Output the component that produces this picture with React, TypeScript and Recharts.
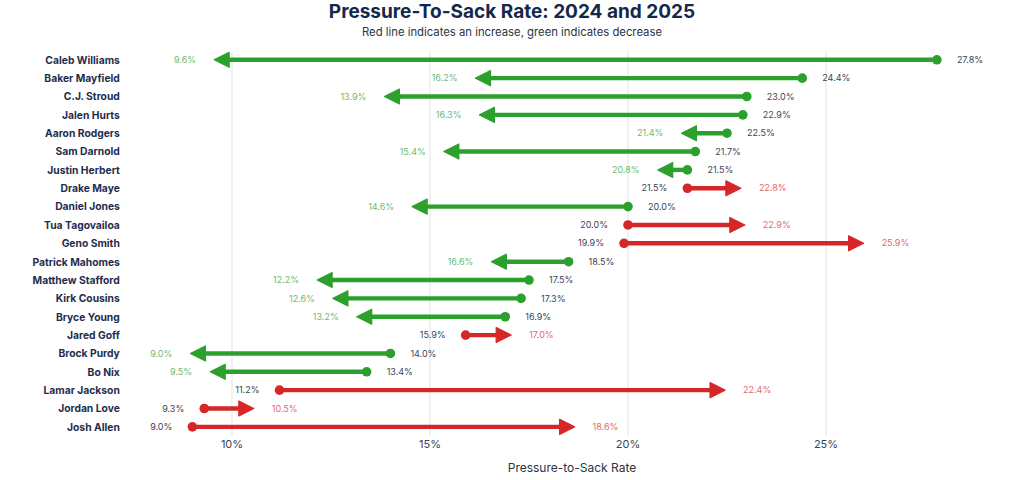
import { BarChart, Bar, XAxis, YAxis, CartesianGrid } from 'recharts';

const players = [
  'Caleb Williams', 'Baker Mayfield', 'C.J. Stroud', 'Jalen Hurts', 'Aaron Rodgers',
  'Sam Darnold', 'Justin Herbert', 'Drake Maye', 'Daniel Jones', 'Tua Tagovailoa',
  'Geno Smith', 'Patrick Mahomes', 'Matthew Stafford', 'Kirk Cousins', 'Bryce Young',
  'Jared Goff', 'Brock Purdy', 'Bo Nix', 'Lamar Jackson', 'Jordan Love', 'Josh Allen',
];
const rate2024 = [
  27.8, 24.4, 23.0, 22.9, 22.5, 21.7, 21.5, 21.5, 20.0, 20.0,
  19.9, 18.5, 17.5, 17.3, 16.9, 15.9, 14.0, 13.4, 11.2, 9.3, 9.0,
];
const rate2025 = [
  9.6, 16.2, 13.9, 16.3, 21.4, 15.4, 20.8, 22.8, 14.6, 22.9,
  25.9, 16.6, 12.2, 12.6, 13.2, 17.0, 9.0, 9.5, 22.4, 10.5, 18.6,
];
const xTicks = [10, 15, 20, 25];

const data = players.map((name, i) => ({
  name,
  y24: rate2024[i],
  y25: rate2025[i],
  range: [Math.min(rate2024[i], rate2025[i]), Math.max(rate2024[i], rate2025[i])],
}));

const GREEN = '#2ca02c';
const RED = '#d62728';
const FONT = 'Inter, "Noto Sans", sans-serif';

// draws one 2024 -> 2025 arrow from the bar's range geometry
const ArrowShape = (props: any) => {
  const { x, y, width, height, payload } = props;
  const cy = y + height / 2;
  const up = payload.y25 > payload.y24;
  const color = up ? RED : GREEN;
  const labelColor = up ? '#df6a6b' : '#6dbb6d';
  const start = up ? x : x + width;
  const end = up ? x + width : x;
  const dir = up ? 1 : -1;
  const tip = end + dir * 2;
  const head = 15;
  const base = tip - dir * head;
  return (
    <g>
      <line x1={start} y1={cy} x2={base + dir * 2} y2={cy} stroke={color} strokeWidth={4.4} />
      <polygon
        points={`${tip},${cy} ${base},${cy - 7.5} ${base},${cy + 7.5}`}
        fill={color}
        stroke={color}
        strokeWidth={1.2}
        strokeLinejoin="round"
      />
      <circle cx={start} cy={cy} r={4.8} fill={color} />
      <text
        x={start - dir * 20}
        y={cy}
        dy="0.35em"
        textAnchor={up ? 'end' : 'start'}
        fontSize={9}
        fill="#3d4556"
        fontFamily={FONT}
      >
        {payload.y24.toFixed(1)}%
      </text>
      <text
        x={end + dir * 20}
        y={cy}
        dy="0.35em"
        textAnchor={up ? 'start' : 'end'}
        fontSize={9}
        fill={labelColor}
        fontFamily={FONT}
      >
        {payload.y25.toFixed(1)}%
      </text>
    </g>
  );
};

export default function App() {
  return (
    <div style={{ position: 'absolute', left: 0, top: 0, width: 1024, height: 480, background: '#fff', fontFamily: FONT }}>
      <div style={{ position: 'absolute', top: 0, left: 0, width: 1024, textAlign: 'center', fontSize: 19, fontWeight: 700, color: '#14284b', lineHeight: '24px' }}>
        Pressure-To-Sack Rate: 2024 and 2025
      </div>
      <div style={{ position: 'absolute', top: 23.5, left: 0, width: 1024, textAlign: 'center', fontSize: 11.3, color: '#2b3445', lineHeight: '16px' }}>
        Red line indicates an increase, green indicates decrease
      </div>
      <BarChart
        layout="vertical"
        width={1024}
        height={480}
        data={data}
        margin={{ top: 50.8, right: 39.6, bottom: 13.8, left: 12.8 }}
        barCategoryGap={0}
      >
        <CartesianGrid horizontal={false} verticalValues={xTicks} stroke="#e3e3e3" />
        <XAxis
          type="number"
          domain={[8, 29]}
          ticks={xTicks}
          tickFormatter={(v) => `${v}%`}
          axisLine={false}
          tickLine={false}
          tickSize={0}
          tickMargin={4}
          height={30}
          tick={{ fontSize: 11, fill: '#3d4556', fontFamily: FONT }}
        />
        <YAxis
          type="category"
          dataKey="name"
          width={140}
          axisLine={false}
          tickLine={false}
          tickSize={0}
          tickMargin={33}
          interval={0}
          tick={{ fontSize: 10.3, fill: '#1f2d4d', fontWeight: 700, fontFamily: FONT }}
        />
        <Bar dataKey="range" shape={<ArrowShape />} isAnimationActive={false} />
      </BarChart>
      <div style={{ position: 'absolute', top: 460, left: 472, width: 200, textAlign: 'center', fontSize: 12, color: '#2b3445', lineHeight: '16px' }}>
        Pressure-to-Sack Rate
      </div>
    </div>
  );
}
